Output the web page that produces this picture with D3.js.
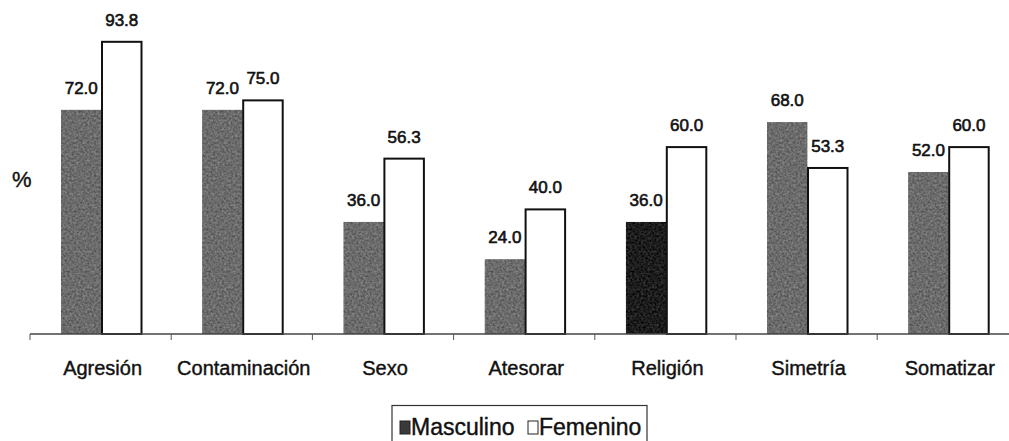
<!DOCTYPE html>
<html>
<head>
<meta charset="utf-8">
<script src="https://cdn.jsdelivr.net/npm/d3@7"></script>
<style>
  html, body { margin: 0; padding: 0; background: #fff; }
  svg { display: block; font-family: "Liberation Sans", Arial, sans-serif; }
</style>
</head>
<body>
<svg id="chart" width="1009" height="441"></svg>
<script>
// Porcentaje de cada tipo de obsesión según sexo
const categories = ["Agresión", "Contaminación", "Sexo", "Atesorar", "Religión", "Simetría", "Somatizar"];
const series = ["Masculino", "Femenino"];
const masculino = [72.0, 72.0, 36.0, 24.0, 36.0, 68.0, 52.0];
const femenino = [93.8, 75.0, 56.3, 40.0, 60.0, 53.3, 60.0];
const yLabel = "%";

const values = { Masculino: masculino, Femenino: femenino };
const rows = categories.map((c, i) => ({
  category: c,
  bars: series.map(s => ({ category: c, series: s, value: values[s][i] }))
}));

const svg = d3.select("#chart");

// Mottled texture for the dark bars
const defs = svg.append("defs");
const grain = defs.append("filter").attr("id", "grain")
  .attr("x", 0).attr("y", 0).attr("width", 1).attr("height", 1)
  .attr("color-interpolation-filters", "sRGB");
grain.append("feTurbulence").attr("type", "fractalNoise").attr("baseFrequency", 0.45)
  .attr("numOctaves", 2).attr("seed", 7).attr("result", "noise");
grain.append("feColorMatrix").attr("in", "noise").attr("type", "matrix")
  .attr("values", "1 0 0 0 0  1 0 0 0 0  1 0 0 0 0  0 0 0 0 1").attr("result", "grey");
grain.append("feComposite").attr("in", "SourceGraphic").attr("in2", "grey")
  .attr("operator", "arithmetic").attr("k1", 0).attr("k2", 1).attr("k3", 0.35).attr("k4", -0.17)
  .attr("result", "mix");
grain.append("feComposite").attr("in", "mix").attr("in2", "SourceAlpha").attr("operator", "in");

const baseY = 334;
const x0 = d3.scaleBand().domain(categories).range([30, 1018.4]).paddingInner(0).paddingOuter(0);
const x1 = d3.scaleBand().domain(series).range([31, 112]);
const y = d3.scaleLinear().domain([0, 100]).range([baseY, 22.5]);

const mascFill = c => c === "Religión" ? "#1b1b1b" : "#6a6a6a";

// Bars
const groups = svg.append("g").selectAll("g").data(rows).join("g")
  .attr("transform", d => `translate(${x0(d.category)},0)`);

groups.selectAll("rect").data(d => d.bars).join("rect")
  .attr("x", d => x1(d.series) + (d.series === "Femenino" ? 0.5 : 0))
  .attr("y", d => y(d.value))
  .attr("width", d => x1.bandwidth() - (d.series === "Femenino" ? 1 : 0))
  .attr("height", d => baseY - y(d.value))
  .attr("fill", d => d.series === "Masculino" ? mascFill(d.category) : "#ffffff")
  .attr("stroke", d => d.series === "Masculino" ? "none" : "#111")
  .attr("stroke-width", 2)
  .attr("filter", d => d.series === "Masculino" ? "url(#grain)" : null);

// Value labels
groups.selectAll("text").data(d => d.bars).join("text")
  .attr("x", d => x1(d.series) + x1.bandwidth() / 2)
  .attr("y", d => y(d.value) - 16)
  .attr("text-anchor", "middle")
  .attr("font-size", 17)
  .attr("fill", "#111").attr("stroke", "#111").attr("stroke-width", 0.6)
  .text(d => d3.format(".1f")(d.value));

// Category axis
const axis = svg.append("g").attr("transform", `translate(0,${baseY})`);
axis.append("line").attr("x1", x0.range()[0]).attr("x2", x0.range()[1])
  .attr("stroke", "#444").attr("stroke-width", 1.5);
axis.selectAll("line.tick").data(categories.concat([null])).join("line")
  .attr("class", "tick")
  .attr("x1", (d, i) => x0.range()[0] + i * x0.step())
  .attr("x2", (d, i) => x0.range()[0] + i * x0.step())
  .attr("y1", 0).attr("y2", 6)
  .attr("stroke", "#555").attr("stroke-width", 1);
axis.selectAll("text").data(categories).join("text")
  .attr("x", d => x0(d) + x0.bandwidth() / 2 + 2)
  .attr("y", 41)
  .attr("text-anchor", "middle")
  .attr("font-size", 20)
  .attr("fill", "#111").attr("stroke", "#111").attr("stroke-width", 0.4)
  .text(d => d);

// Y label
svg.append("text").attr("x", 12).attr("y", 187)
  .attr("font-size", 22).attr("fill", "#111").attr("stroke", "#111").attr("stroke-width", 0.4)
  .text(yLabel);

// Legend
const legend = svg.append("g");
legend.append("rect").attr("x", 392).attr("y", 405.5).attr("width", 255).attr("height", 45)
  .attr("fill", "none").attr("stroke", "#333").attr("stroke-width", 1.2);
const legendItems = [
  { name: series[0], x: 400, fill: "#3a3a3a", stroke: "#222" },
  { name: series[1], x: 528, fill: "#ffffff", stroke: "#222" }
];
legendItems.forEach(it => {
  legend.append("rect").attr("x", it.x).attr("y", 421).attr("width", 10).attr("height", 13)
    .attr("fill", it.fill).attr("stroke", it.stroke).attr("stroke-width", 1);
  legend.append("text").attr("x", it.x + 11).attr("y", 435)
    .attr("font-size", 23).attr("fill", "#111").attr("stroke", "#111").attr("stroke-width", 0.4)
    .text(it.name);
});
</script>
</body>
</html>
